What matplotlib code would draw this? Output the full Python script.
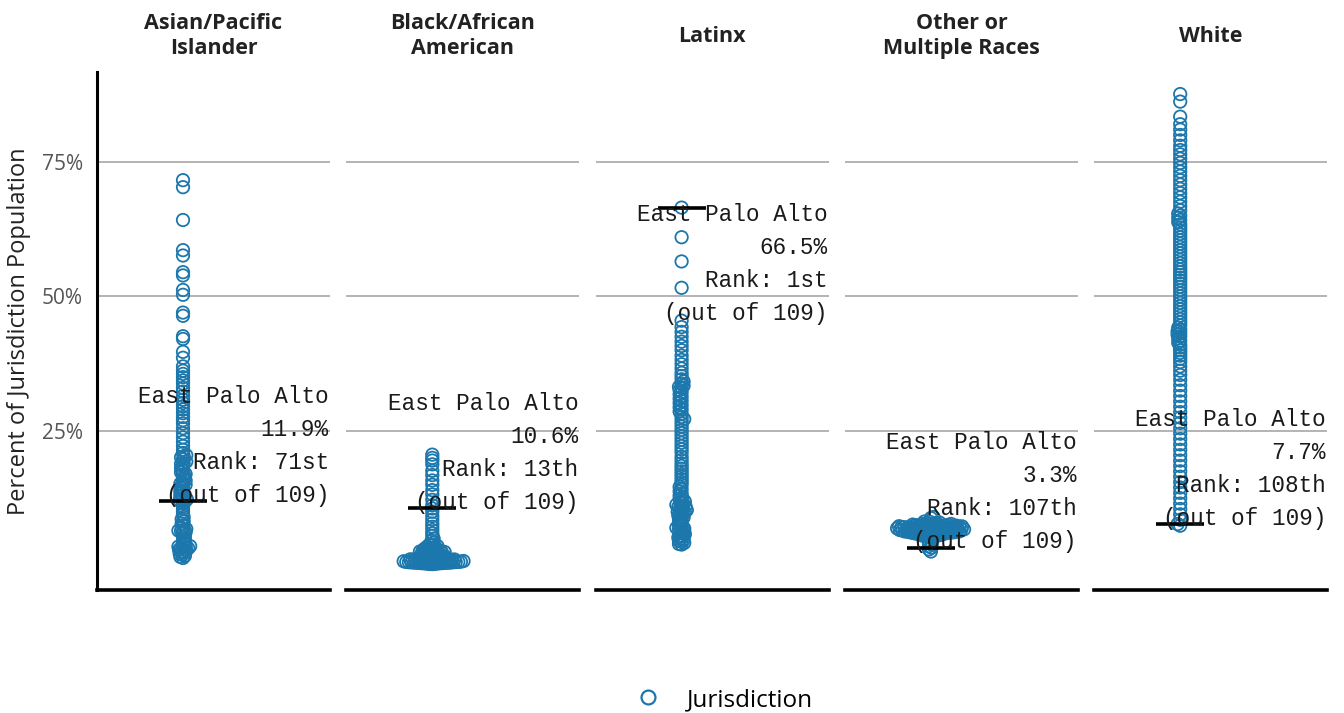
import numpy as np
import matplotlib
matplotlib.use("Agg")
import matplotlib.pyplot as plt
from matplotlib.lines import Line2D

# ---------------- data ----------------
categories = ["Asian/Pacific\nIslander", "Black/African\nAmerican", "Latinx",
              "Other or\nMultiple Races", "White"]

asian = [71.6, 70.3, 64.2, 58.6, 57.6, 54.5, 53.9, 51.2, 50.3, 47.0, 46.4, 42.6, 42.1, 39.7, 38.6,
         37.0, 36.2, 35.6, 35.0, 34.4, 33.8, 33.0, 32.3, 31.5, 30.8, 30.2, 29.6, 29.0, 28.3, 27.6,
         27.0, 26.4, 25.5, 24.6, 23.8, 23.0, 22.2, 21.5,
         20.9, 20.5, 20.1, 19.7, 19.3, 18.9, 18.5, 18.1, 17.7, 17.3, 16.9, 16.5, 16.1, 15.8, 15.5,
         15.2, 14.9, 14.6, 14.3, 14.0, 13.7, 13.4, 13.1, 12.8, 12.5, 12.3, 12.1, 12.0,
         20.3, 19.0, 17.0, 15.0,
         11.9,
         11.5, 11.0, 10.5, 10.0, 9.5, 9.0, 8.6, 8.2, 7.8, 7.4, 7.0, 6.8, 6.6, 6.4, 6.2, 6.0, 5.6,
         5.2, 4.8, 4.4, 4.0, 3.8, 3.6, 3.4, 3.2, 3.0, 2.8, 2.6, 2.4, 2.2, 2.0, 1.8, 1.6, 3.3, 3.5,
         2.9, 6.5, 1.4]

black = [20.6, 20.0, 19.5, 18.8, 17.6, 16.8, 15.8, 15.0, 14.0, 13.2, 12.2, 11.2,
         10.6,
         10.0, 9.2, 8.5, 7.8, 7.2, 6.6, 6.0, 5.5, 5.0, 4.6, 4.2, 3.9, 3.6, 3.3, 3.0, 2.8, 2.6,
         2.4, 2.2, 2.0,
         2.55, 2.45, 2.35, 2.25, 2.15, 2.05, 1.95, 1.88, 1.81, 1.74,
         1.68, 1.62, 1.56, 1.50, 1.45, 1.40, 1.35, 1.30, 1.26, 1.22,
         1.18, 1.14, 1.10, 1.06, 1.02, 0.98, 0.95, 0.92, 0.89, 0.86,
         0.83, 0.80, 0.77, 0.74, 0.71, 0.68, 0.65, 0.62, 0.59, 0.56,
         0.53, 0.50, 0.47, 0.44, 0.41, 0.38, 0.35, 0.32, 0.29, 0.26,
         3.45, 3.15, 2.95, 2.75, 2.65, 3.75,
         1.32, 1.12, 0.97, 0.84, 0.72, 0.61, 0.52, 0.43,
         1.04, 0.90, 0.79, 0.66, 0.55, 0.46,
         2.9, 2.7, 3.1, 3.5, 2.5, 2.3]

latinx = [66.5, 61.0, 56.5, 51.6,
          45.5, 44.3, 43.4, 42.5, 41.6, 40.8, 40.0, 39.0, 38.2, 37.4,
          36.6, 35.8, 35.2, 34.6, 34.2, 33.8, 33.4, 33.0, 32.6, 32.2,
          31.8, 31.4, 31.0, 30.6, 30.2, 29.8, 29.4, 29.0, 28.6, 28.2,
          27.6, 27.0, 26.4, 25.8, 25.2, 24.6, 24.0, 23.4, 22.8, 22.2,
          21.6, 21.0, 20.2, 19.6, 19.0, 18.5, 18.0, 17.5, 17.0, 16.5,
          16.0, 15.5, 15.0, 14.6, 14.2, 13.8, 13.4, 13.0, 12.7, 12.4,
          12.1, 11.9, 11.7, 11.5, 11.3, 11.1, 10.9, 10.7, 10.5, 10.3,
          10.1, 9.9, 9.7, 9.5, 9.3, 9.1, 8.9, 8.7, 8.5, 8.2,
          7.9, 7.6, 7.3, 7.0, 6.8, 6.6, 6.4, 6.2, 6.0, 5.8,
          5.6, 5.4, 5.2, 5.0, 4.8, 4.6, 4.4, 4.2, 4.0, 3.9,
          11.0, 10.0, 27.2, 33.2, 6.9]

other = [2.6, 3.0, 3.3,
         3.6, 3.9, 4.2, 5.9, 6.1, 6.3, 6.5, 6.7, 5.24, 5.35,
         5.45, 5.54, 5.62, 5.70, 5.77, 5.84, 5.90, 5.96, 6.02, 6.07,
         6.12, 6.17, 6.22, 6.27, 6.31, 6.35, 6.39, 6.43, 6.47, 6.51,
         6.55, 6.59, 6.63, 6.67, 6.71, 6.75, 6.79, 6.83, 6.87, 6.91,
         6.95, 6.99, 7.03, 7.07, 7.11, 7.15, 7.19, 7.23, 7.27, 7.31,
         7.35, 7.40, 7.45, 7.50, 7.55, 7.60, 7.66, 7.72, 7.78, 7.85,
         7.92, 8.00, 8.08, 8.17, 7.1, 7.3, 6.9, 6.6, 8.82, 9.0,
         6.05, 6.15, 6.25, 6.33, 6.41, 6.49, 6.57, 6.65, 6.73, 6.81,
         6.89, 6.97, 7.05, 7.13, 7.21, 7.29, 7.38, 7.48, 7.58, 7.70,
         5.5, 5.8, 6.0, 6.2, 6.45, 6.6, 6.85, 7.0, 7.25, 7.42,
         5.3, 5.65, 5.95, 6.3, 6.7, 7.1]

white = [87.6, 86.2, 83.4, 82.0, 81.0, 80.0, 79.0, 78.0, 77.2, 76.4,
         75.6, 74.8, 74.0, 73.2, 72.4, 71.6, 70.8, 70.0, 69.2, 68.4,
         67.6, 66.8, 66.0, 65.4, 65.0, 64.6, 64.2, 63.8, 63.4, 62.8,
         62.2, 61.6, 61.0, 60.4, 59.8, 59.2, 58.6, 58.0, 57.4, 56.8,
         56.2, 55.6, 55.0, 54.5, 54.0, 53.5, 53.0, 52.4, 51.8, 51.2,
         50.6, 50.0, 49.4, 48.8, 48.2, 47.6, 47.0, 46.4, 45.8, 45.2,
         44.6, 44.2, 43.8, 43.5, 43.2, 42.9, 42.6, 42.2, 41.8, 41.4,
         41.0, 40.5, 40.0, 39.5, 39.0, 38.4, 37.8, 37.0, 36.2, 35.4,
         34.5, 33.5, 32.5, 31.5, 30.5, 29.5, 28.5, 27.5, 26.5, 25.5,
         24.5, 23.5, 22.5, 21.5, 20.5, 19.5, 18.5, 17.5, 16.5, 15.5,
         14.5, 13.5, 12.5, 11.5, 10.5, 9.5, 8.5, 7.7, 7.4]

series = [asian, black, latinx, other, white]

highlight_name = "East Palo Alto"
highlight_values = [11.9, 10.6, 66.5, 3.3, 7.7]
highlight_ranks = ["71st", "13th", "1st", "107th", "108th"]
total_count = 109

yticks = [25, 50, 75]
ytick_labels = ["25%", "50%", "75%"]

# ---------------- style ----------------
BLUE = "#1c77ac"
DPI = 100
W, H = 1344, 713
AX_LEFT_PX, AX_W_PX, AX_STEP_PX = 97, 233, 249.3
AX_TOP_PX, AX_BOT_PX = 72, 590
YMIN, YMAX = -4.55, 91.7
PX_PER_UNIT = (AX_BOT_PX - AX_TOP_PX) / (YMAX - YMIN)
CENTER_FROM_LEFT = 86  # px
COLLIDE = 2.6          # px, allows overlapping circles like the reference

plt.rcParams["font.family"] = ["Open Sans", "DejaVu Sans"]


def beeswarm(values, ppu, d):
    """Return x offsets (px) for a simple beeswarm layout."""
    vals = np.asarray(values, dtype=float)
    order = np.argsort(vals)
    ys = vals * ppu
    placed_x, placed_y = [], []
    xs = np.zeros(len(vals))
    step = d / 4.0
    for n, idx in enumerate(order):
        y = ys[idx]
        k = 0
        sign = 1 if n % 2 == 0 else -1
        while True:
            cands = [0.0] if k == 0 else [sign * k * step, -sign * k * step]
            ok_c = None
            for c in cands:
                ok = True
                for px, py in zip(placed_x, placed_y):
                    if abs(py - y) < d and (px - c) ** 2 + (py - y) ** 2 < d * d:
                        ok = False
                        break
                if ok:
                    ok_c = c
                    break
            if ok_c is not None:
                xs[idx] = ok_c
                placed_x.append(ok_c)
                placed_y.append(y)
                break
            k += 1
    return xs


fig = plt.figure(figsize=(W / DPI, H / DPI), dpi=DPI)

for i, (cat, vals) in enumerate(zip(categories, series)):
    left = (AX_LEFT_PX + i * AX_STEP_PX) / W
    ax = fig.add_axes([left, 1 - AX_BOT_PX / H, AX_W_PX / W, (AX_BOT_PX - AX_TOP_PX) / H])
    ax.set_xlim(-CENTER_FROM_LEFT, AX_W_PX - CENTER_FROM_LEFT)
    ax.set_ylim(YMIN, YMAX)

    xs = beeswarm(vals, PX_PER_UNIT, COLLIDE)
    ax.scatter(xs, vals, s=80, facecolors="none", edgecolors=BLUE, linewidths=1.3, zorder=3)

    for yt in yticks:
        ax.axhline(yt, color="#b3b3b3", lw=1.4, zorder=1)

    hv = highlight_values[i]
    ax.hlines(hv, -24, 24, color="black", lw=2.6, zorder=5)

    lines = [highlight_name, f"{hv}%", f"Rank: {highlight_ranks[i]}", f"(out of {total_count})"]
    below = hv > 50
    for j, t in enumerate(lines):
        if below:
            off = -7 - j * 33
        else:
            off = 6 + (len(lines) - 1 - j) * 33
        ax.annotate(t, xy=(1.0, hv), xycoords=("axes fraction", "data"),
                    xytext=(-1, off), textcoords="offset pixels",
                    ha="right", va="center", family="Liberation Mono",
                    fontsize=16.3, color="#1a1a1a", zorder=6)

    ax.text(0.5, 1 + 36 / (AX_BOT_PX - AX_TOP_PX), cat, transform=ax.transAxes,
            ha="center", va="center", fontsize=15.5, fontweight="bold", color="#222222",
            linespacing=1.3)

    ax.set_xticks([])
    for s in ["top", "right"]:
        ax.spines[s].set_visible(False)
    ax.spines["bottom"].set_linewidth(2.6)
    ax.spines["bottom"].set_color("black")
    if i == 0:
        ax.spines["left"].set_linewidth(2.2)
        ax.spines["left"].set_color("black")
        ax.set_yticks(yticks)
        ax.set_yticklabels(ytick_labels)
        ax.tick_params(axis="y", length=0, pad=10, labelsize=15, labelcolor="#555555")
        ax.set_ylabel("Percent of Jurisdiction Population", fontsize=17, color="#222222",
                      labelpad=8)
    else:
        ax.spines["left"].set_visible(False)
        ax.set_yticks(yticks)
        ax.tick_params(axis="y", length=0, labelleft=False)
    ax.set_facecolor("none")

handle = Line2D([], [], marker="o", linestyle="none", markerfacecolor="none",
                markeredgecolor=BLUE, markeredgewidth=1.6, markersize=10)
fig.legend([handle], ["Jurisdiction"], loc="center", bbox_to_anchor=(718 / W, 1 - 700 / H),
           frameon=False, fontsize=17.5, handletextpad=0.6)

fig.savefig("out.png", dpi=DPI)
